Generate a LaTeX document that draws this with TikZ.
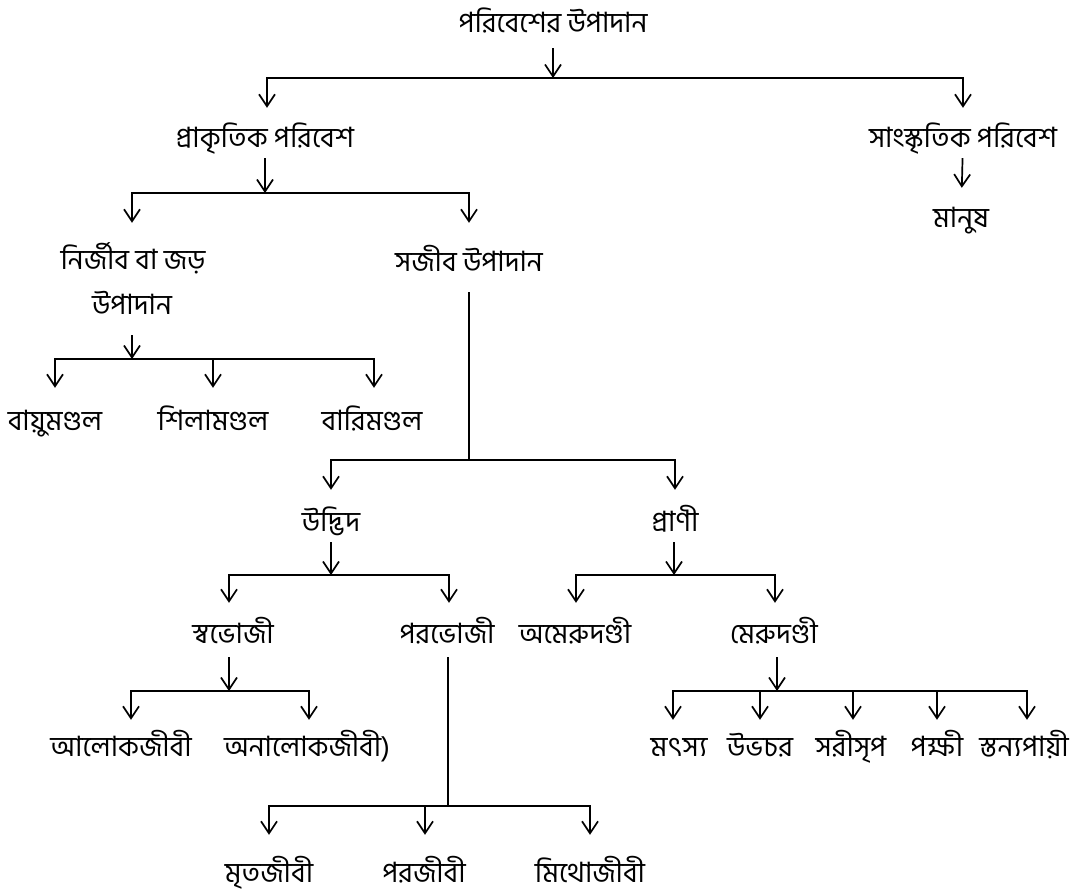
\documentclass[tikz,border=0pt]{standalone}
\usepackage{fontspec}
\newfontfamily\bn[Script=Bengali]{Hind Siliguri}
\usetikzlibrary{arrows.meta}
\begin{document}
\begin{tikzpicture}[x=1pt,y=-1pt,
  lbl/.style={font=\bn\fontsize{28}{34}\selectfont, text height=22.5pt, text depth=7.5pt, inner sep=0pt},
  arrowto/.style={-{Straight Barb[length=12pt,width=16pt]}, line width=1.7pt, shorten >=#1},
  arrowto/.default=0pt,
  stem/.style={line width=1.7pt},
  bar/.style={line width=2.4pt, line cap=rect}]
\useasboundingbox (0,0) rectangle (1075,895);
% nodes
\node[lbl] (root) at (553,25) {পরিবেশের উপাদান};
\node[lbl] (prak) at (265,140) {প্রাকৃতিক পরিবেশ};
\node[lbl] (sansk) at (963,140) {সাংস্কৃতিক পরিবেশ};
\node[lbl] (manush) at (961,220) {মানুষ};
\node[lbl] (nirjib) at (133,262) {নির্জীব বা জড়};
\node[lbl] (nirjibB) at (132,307) {উপাদান};
\node[lbl] (sajib) at (469,264) {সজীব উপাদান};
\node[lbl] (bayu) at (55,423) {বায়ুমণ্ডল};
\node[lbl] (shila) at (213,423) {শিলামণ্ডল};
\node[lbl] (bari) at (372,423) {বারিমণ্ডল};
\node[lbl] (udbhid) at (331,524) {উদ্ভিদ};
\node[lbl] (prani) at (675,524) {প্রাণী};
\node[lbl] (swa) at (233,636) {স্বভোজী};
\node[lbl] (para) at (447,636) {পরভোজী};
\node[lbl] (amer) at (575,636) {অমেরুদণ্ডী};
\node[lbl] (meru) at (774,636) {মেরুদণ্ডী};
\node[lbl] (alok) at (121,749) {আলোকজীবী};
\node[lbl] (analok) at (307,749) {অনালোকজীবী)};
\node[lbl] (matsya) at (679,749) {মৎস্য};
\node[lbl] (ubh) at (760,749) {উভচর};
\node[lbl] (sari) at (851,749) {সরীসৃপ};
\node[lbl] (pakshi) at (937,749) {পক্ষী};
\node[lbl] (stanya) at (1024,749) {স্তন্যপায়ী};
\node[lbl] (mrit) at (269,875) {মৃতজীবী};
\node[lbl] (parj) at (424,875) {পরজীবী};
\node[lbl] (mitho) at (590,875) {মিথোজীবী};
% junction coordinates
\coordinate (j0) at (553,78);  \coordinate (j0L) at (267,78);  \coordinate (j0R) at (963,78);
\coordinate (j1) at (265,193); \coordinate (j1L) at (132,193); \coordinate (j1R) at (469,193);
\coordinate (j2) at (132,359); \coordinate (j2L) at (55,359);  \coordinate (j2M) at (213,359); \coordinate (j2R) at (374,359);
\coordinate (j3) at (469,460); \coordinate (j3L) at (331,460); \coordinate (j3R) at (675,460);
\coordinate (j4) at (331,575); \coordinate (j4L) at (229,575); \coordinate (j4R) at (449,575);
\coordinate (j5) at (674,575); \coordinate (j5L) at (576,575); \coordinate (j5R) at (775,575);
\coordinate (j6) at (229,691); \coordinate (j6L) at (131,691); \coordinate (j6R) at (309,691);
\coordinate (j7) at (448,806); \coordinate (j7L) at (269,806); \coordinate (j7M) at (425,806); \coordinate (j7R) at (590,806);
\coordinate (j8) at (777,691); \coordinate (j8L) at (673,691); \coordinate (j8a) at (760,691); \coordinate (j8b) at (853,691); \coordinate (j8c) at (937,691); \coordinate (j8R) at (1027,691);
% bars
\draw[bar] (j0L) -- (j0R);
\draw[bar] (j1L) -- (j1R);
\draw[bar] (j2L) -- (j2R);
\draw[bar] (j3L) -- (j3R);
\draw[bar] (j4L) -- (j4R);
\draw[bar] (j5L) -- (j5R);
\draw[bar] (j6L) -- (j6R);
\draw[bar] (j7L) -- (j7R);
\draw[bar] (j8L) -- (j8R);
% level 0
\draw[arrowto, shorten <=8pt] (root) -- (j0);
\draw[arrowto=17pt] (j0L) -- (j0L |- prak.north);
\draw[arrowto=17pt] (j0R) -- (sansk);
\draw[arrowto=17pt, shorten <=3pt] (sansk) -- (manush);
% prakritik
\draw[arrowto, shorten <=3pt] (prak) -- (j1);
\draw[arrowto=24pt] (j1L) -- (j1L |- nirjib.north);
\draw[arrowto=26pt] (j1R) -- (sajib);
% nirjib
\draw[arrowto, shorten <=13pt] (nirjibB) -- (j2);
\draw[arrowto=20pt] (j2L) -- (bayu);
\draw[arrowto=20pt] (j2M) -- (shila);
\draw[arrowto=20pt] (j2R) -- (j2R |- bari.north);
% sajib
\draw[stem, shorten <=13pt] (sajib) -- (j3);
\draw[arrowto=19pt] (j3L) -- (udbhid);
\draw[arrowto=19pt] (j3R) -- (prani);
% udbhid
\draw[arrowto, shorten <=3pt] (udbhid) -- (j4);
\draw[arrowto=18pt] (j4L) -- (j4L |- swa.north);
\draw[arrowto=18pt] (j4R) -- (j4R |- para.north);
% prani
\draw[arrowto, shorten <=3pt] (prani.south -| j5) -- (j5);
\draw[arrowto=18pt] (j5L) -- (j5L |- amer.north);
\draw[arrowto=18pt] (j5R) -- (j5R |- meru.north);
% swabhoji
\draw[arrowto, shorten <=6pt] (swa.south -| j6) -- (j6);
\draw[arrowto=14pt] (j6L) -- (j6L |- alok.north);
\draw[arrowto=14pt] (j6R) -- (j6R |- analok.north);
% parabhoji
\draw[stem, shorten <=6pt] (para.south -| j7) -- (j7);
\draw[arrowto=25pt] (j7L) -- (mrit);
\draw[arrowto=25pt] (j7M) -- (j7M |- parj.north);
\draw[arrowto=25pt] (j7R) -- (mitho);
% merudandi
\draw[arrowto, shorten <=6pt] (meru.south -| j8) -- (j8);
\draw[arrowto=14pt] (j8L) -- (j8L |- matsya.north);
\draw[arrowto=14pt] (j8a) -- (ubh);
\draw[arrowto=14pt] (j8b) -- (j8b |- sari.north);
\draw[arrowto=14pt] (j8c) -- (pakshi);
\draw[arrowto=14pt] (j8R) -- (j8R |- stanya.north);
\end{tikzpicture}
\end{document}
